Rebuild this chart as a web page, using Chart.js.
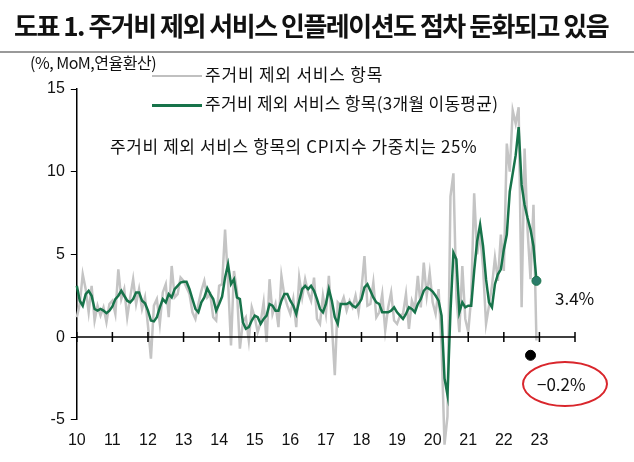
<!DOCTYPE html>
<html><head><meta charset="utf-8">
<script src="https://cdn.jsdelivr.net/npm/chart.js@4"></script>
<style>
body{margin:0;background:#fff;font-family:"Noto Sans CJK KR",sans-serif;}
#wrap{position:relative;width:634px;height:462px;}
.t{position:absolute;white-space:nowrap;color:#111;}
</style></head><body>
<div id="wrap">
<canvas id="c" width="634" height="462"></canvas>
<div class="t" style="left:14px;top:6px;font-size:26px;font-weight:700;letter-spacing:-1.5px">도표 1. 주거비 제외 서비스 인플레이션도 점차 둔화되고 있음</div>
<div style="position:absolute;left:0;top:51px;width:634px;height:2px;background:#999"></div>
<div class="t" style="left:30px;top:50px;font-size:16px;letter-spacing:-0.5px">(%, MoM,연율환산)</div>
<div style="position:absolute;left:152px;top:75px;width:50px;height:2px;background:#c0c0c0"></div>
<div class="t" style="left:205px;top:61px;font-size:17px;letter-spacing:0.8px">주거비 제외 서비스 항목</div>
<div style="position:absolute;left:152px;top:104px;width:50px;height:3px;background:#17734a"></div>
<div class="t" style="left:205px;top:90px;font-size:17px;letter-spacing:0.3px">주거비 제외 서비스 항목(3개월 이동평균)</div>
<div class="t" style="left:110px;top:133px;font-size:17px;letter-spacing:0.6px">주거비 제외 서비스 항목의 CPI지수 가중치는 25%</div>
<div class="t" style="left:555px;top:285px;font-size:17px">3.4%</div>
<div class="t" style="left:537px;top:371px;font-size:17px">−0.2%</div>
<div style="position:absolute;left:522px;top:361px;width:82px;height:42px;border:2px solid #d9262c;border-radius:50%"></div>
</div>
<script>
const yearLabels=['10','11','12','13','14','15','16','17','18','19','20','21','22','23'];
const yTicks=[-5,0,5,10,15];
const green=[3.1,2.2,1.9,2.6,2.8,2.5,1.7,1.6,1.7,1.6,1.45,1.6,
1.85,2.3,2.5,2.8,2.5,2.2,2.1,2.3,2.7,2.7,2.2,2.05,
1.6,1.0,0.95,1.2,1.8,2.3,2.1,2.6,2.4,2.9,3.1,3.3,
3.35,3.35,2.9,2.3,1.7,1.5,2.1,2.4,2.95,2.6,2.3,1.6,
2.0,2.45,3.6,4.4,3.2,3.5,2.4,2.3,0.9,0.5,0.6,1.0,
1.3,1.2,0.8,1.1,1.3,2.0,1.9,1.6,1.6,2.2,2.6,2.6,
2.2,1.9,1.4,2.2,2.9,3.1,2.9,3.1,2.8,2.3,1.7,1.5,
2.0,2.9,2.2,1.2,0.8,2.0,2.0,2.0,2.1,1.9,1.8,2.0,
2.3,3.0,3.2,2.8,2.4,2.1,2.0,1.5,1.5,1.5,1.6,1.8,
1.5,1.3,1.1,1.4,1.8,1.7,1.5,2.0,2.3,2.8,3.0,2.9,
2.75,2.5,2.2,1.3,-2.5,-3.5,1.5,5.1,4.7,1.5,2.1,1.8,
1.9,1.9,4.0,5.8,6.8,5.5,3.5,2.1,1.8,3.2,3.8,4.1,
5.3,6.2,8.8,9.9,11.0,12.7,9.2,8.0,7.2,6.5,5.5,3.4];
const grey=[1.2,2.0,3.8,2.9,1.5,3.1,1.0,1.9,1.3,1.8,0.9,2.0,
2.2,1.4,4.1,2.3,2.9,1.2,2.4,3.5,2.0,2.9,1.7,2.4,
0.7,-1.3,1.9,2.3,0.8,2.7,3.2,1.2,4.3,2.4,2.6,3.6,
3.4,3.0,2.6,1.5,1.1,2.0,2.8,3.4,2.4,2.6,1.2,1.0,
3.1,3.2,6.5,3.4,-0.5,4.0,2.8,-0.7,0.9,1.2,-0.2,1.8,
1.2,0.3,0.9,2.1,-0.3,3.5,1.4,2.0,0.6,3.7,2.5,1.9,
1.4,2.3,0.6,3.6,2.4,3.5,2.7,2.2,3.6,1.1,0.8,2.5,
1.4,3.7,0.8,-2.3,2.1,1.9,2.4,1.6,2.2,1.8,2.5,1.5,
2.9,4.9,1.9,2.0,3.3,1.2,1.5,2.6,0.4,1.8,2.7,1.0,
0.8,1.3,1.4,2.6,0.5,2.2,1.7,3.7,1.8,4.5,2.5,3.9,
2.1,1.4,2.9,-0.5,-6.5,-4.8,8.5,9.9,2.4,0.3,4.3,1.1,
0.3,2.4,8.7,5.0,6.3,4.2,0.8,1.9,3.1,4.8,3.4,6.2,
4.0,11.7,10.0,13.7,12.9,13.9,1.8,11.4,6.5,3.5,8.0,-0.2];
const lastGreen={x:155/12,y:3.4};
const markDot={x:153/12,y:-1.1};
const toPts=a=>a.map((v,i)=>({x:i/12,y:v}));
const zeroAxis={id:'zeroAxis',afterDatasetsDraw(ch){
 const {ctx,scales:{x,y}}=ch;const y0=y.getPixelForValue(0);
 ctx.save();ctx.strokeStyle='#000';ctx.lineWidth=1.5;ctx.beginPath();
 ctx.moveTo(x.getPixelForValue(0),y0);ctx.lineTo(x.getPixelForValue(14),y0);
 for(let i=0;i<=14;i++){const px=x.getPixelForValue(i);ctx.moveTo(px,y0-5);ctx.lineTo(px,y0+5);}
 ctx.stroke();ctx.restore();}};
new Chart(document.getElementById('c'),{type:'line',
data:{datasets:[
{data:toPts(grey),borderColor:'#c4c4c4',borderWidth:2.5,pointRadius:0,tension:0,order:3},
{data:toPts(green),borderColor:'#17734a',borderWidth:2.5,pointRadius:0,tension:0,order:2},
{data:[lastGreen],borderColor:'#17734a',backgroundColor:'#2a7c6a',pointRadius:4.5,showLine:false,order:1},
{data:[markDot],borderColor:'#000',backgroundColor:'#000',pointRadius:5,showLine:false,order:1}]},
options:{responsive:false,animation:false,clip:false,
layout:{padding:{top:89,left:41,right:59,bottom:9}},
plugins:{legend:{display:false},tooltip:{enabled:false}},
scales:{
x:{type:'linear',min:0,max:14,border:{display:false},grid:{display:false},
 afterBuildTicks:s=>{s.ticks=yearLabels.map((_,i)=>({value:i}));},
 ticks:{color:'#111',font:{size:16,family:'Liberation Sans'},maxRotation:0,autoSkip:false,callback:v=>yearLabels[v]}},
y:{min:-5,max:15,border:{display:true,color:'#000',width:1.5},
 grid:{drawOnChartArea:false,drawTicks:true,tickLength:6,color:'#000'},
 afterBuildTicks:s=>{s.ticks=yTicks.map(v=>({value:v}));},
 ticks:{color:'#111',font:{size:16,family:'Liberation Sans'},padding:6}}}},
plugins:[zeroAxis]});
</script></body></html>
